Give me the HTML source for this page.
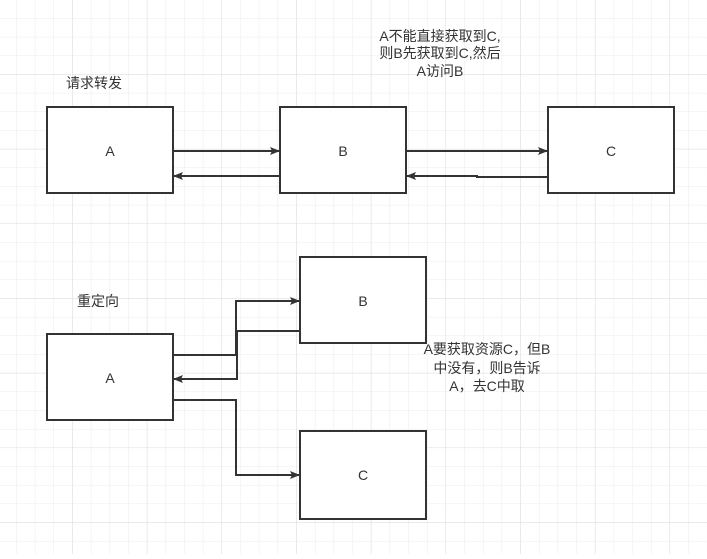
<!DOCTYPE html>
<html><head><meta charset="utf-8"><style>
body{margin:0;width:707px;height:554px;overflow:hidden;background:#fff;font-family:"Liberation Sans","Noto Sans CJK SC",sans-serif;}
</style></head><body>
<svg width="707" height="554" xmlns="http://www.w3.org/2000/svg">
<defs>
<pattern id="g" x="-2" y="0" width="18.67" height="18.67" patternUnits="userSpaceOnUse">
<path d="M18.67 0V18.67M0 18.67H18.67" stroke="#ebebeb" stroke-width="1" fill="none"/>
</pattern>
<pattern id="G" x="-2" y="0" width="74.67" height="74.67" patternUnits="userSpaceOnUse">
<path d="M74.67 0V74.67M0 74.67H74.67" stroke="#dedede" stroke-width="1" fill="none"/>
</pattern>
<marker id="ar" markerWidth="10" markerHeight="8" refX="9" refY="4" orient="auto" markerUnits="userSpaceOnUse">
<path d="M0 0L10 4L0 8L2 4Z" fill="#333"/>
</marker>
</defs>
<rect width="707" height="554" fill="url(#g)"/>
<rect width="707" height="554" fill="url(#G)"/>
<g fill="#fff" stroke="#333" stroke-width="2">
<rect x="47" y="107" width="126" height="86"/>
<rect x="280" y="107" width="126" height="86"/>
<rect x="548" y="107" width="126" height="86"/>
<rect x="300" y="257" width="126" height="86"/>
<rect x="47" y="334" width="126" height="86"/>
<rect x="300" y="431" width="126" height="88"/>
</g>
<g fill="none" stroke="#333" stroke-width="2" marker-end="url(#ar)">
<path d="M173 151H279"/>
<path d="M280 176H174"/>
<path d="M406 151H547"/>
<path d="M548 177H477V176H407"/>
<path d="M173 355H236V301H299"/>
<path d="M300 331H237V379H174"/>
<path d="M173 400H236V475H299"/>
</g>
<g font-size="14" fill="#333" text-anchor="middle">
<text x="110" y="156">A</text>
<text x="343" y="156">B</text>
<text x="611" y="156">C</text>
<text x="363" y="306">B</text>
<text x="110" y="383">A</text>
<text x="363" y="480">C</text>
<text x="94" y="88">请求转发</text>
<text x="98" y="306">重定向</text>
<text x="440" y="41">A不能直接获取到C,</text>
<text x="440" y="58">则B先获取到C,然后</text>
<text x="440" y="76">A访问B</text>
<text x="487" y="354">A要获取资源C，但B</text>
<text x="487" y="373">中没有，则B告诉</text>
<text x="487" y="391">A，去C中取</text>
</g>
</svg>
</body></html>
